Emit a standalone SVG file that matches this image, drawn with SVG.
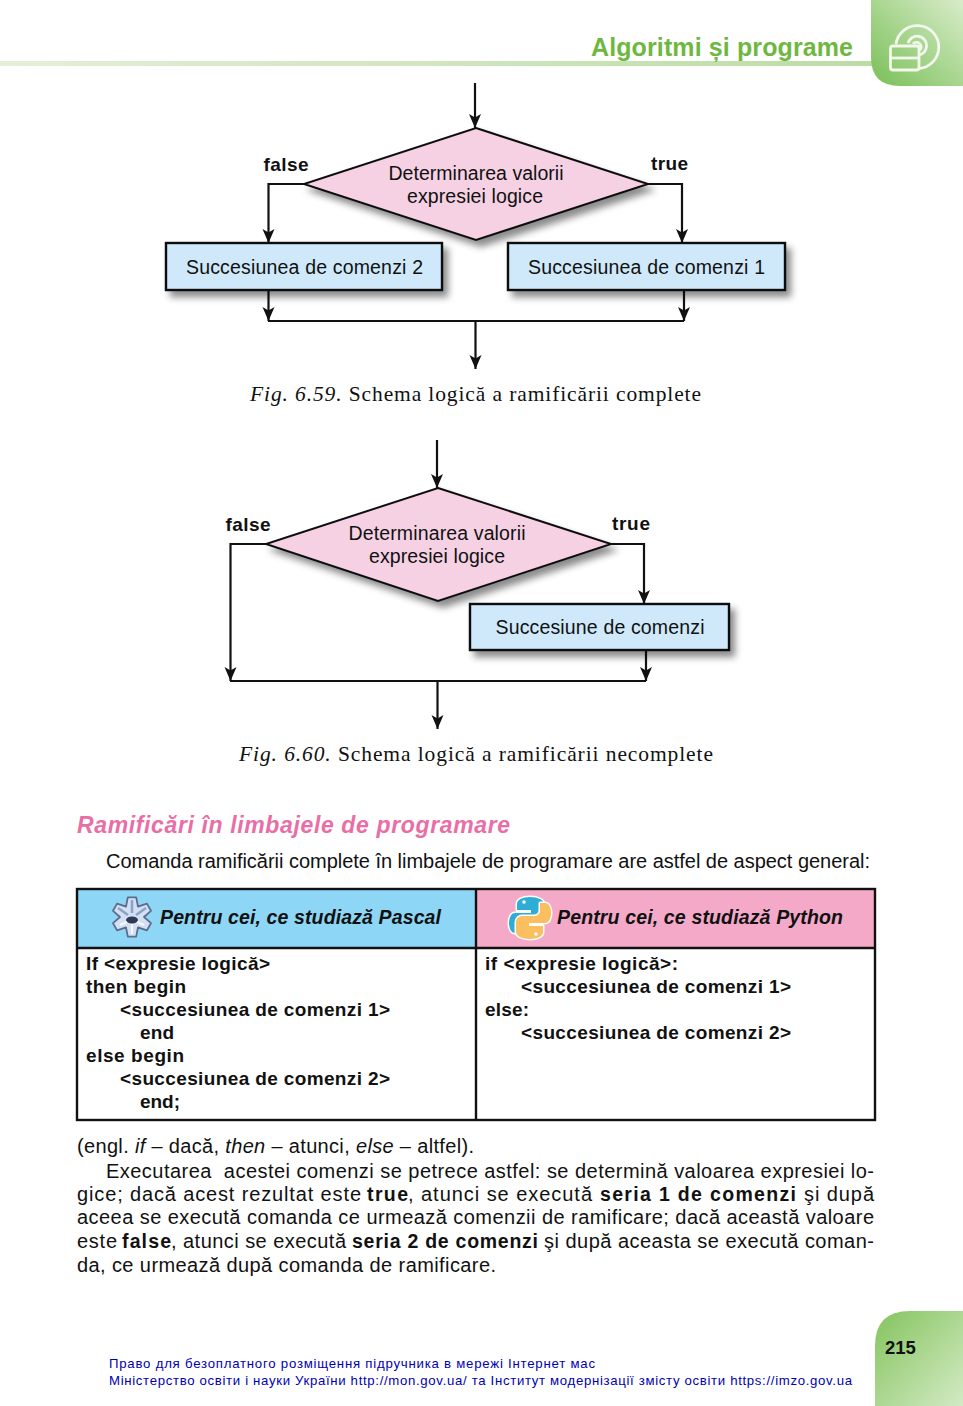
<svg xmlns="http://www.w3.org/2000/svg" width="963" height="1406" viewBox="0 0 963 1406">
<style>
text{font-family:"Liberation Sans",Arial,sans-serif;fill:#111}
.n{font-size:19.5px;text-anchor:middle}
.lb{font-size:19px;font-weight:bold}
.cap{font-family:"Liberation Serif","Times New Roman",serif;font-size:21.5px}
.body{font-size:20px}
.b{font-size:19.5px;font-weight:bold}
.code{font-size:19px;font-weight:bold}
.th{font-size:19.5px;font-weight:bold;font-style:italic}
.foot{font-size:13.2px;fill:#0000b4}
.d{fill:#f6d1e4;stroke:#111;stroke-width:2}
.r{fill:#cfe9fa;stroke:#111;stroke-width:2.4}
.c{fill:none;stroke:#111;stroke-width:2.2;marker-end:url(#a)}
.l{fill:none;stroke:#111;stroke-width:2.2}
.t{fill:none;stroke:#111;stroke-width:2.4}
</style>
<defs>
<marker id="a" markerUnits="userSpaceOnUse" markerWidth="16" markerHeight="14" refX="14" refY="6" orient="auto"><path d="M0 0L14 6L0 12L3.500 6Z" fill="#111"/></marker>
<filter id="s" x="-10%" y="-30%" width="125%" height="170%"><feDropShadow dx="5" dy="6" stdDeviation="3.5" flood-color="#000" flood-opacity=".45"/></filter>
<linearGradient id="g1" x1="0" y1="1" x2="1" y2="0"><stop offset="0" stop-color="#79bf57"/><stop offset="1" stop-color="#d8ecc9"/></linearGradient>
<linearGradient id="g2" x1="0" y1="0" x2="1" y2="1"><stop offset="0" stop-color="#84c45e"/><stop offset="1" stop-color="#d3eac4"/></linearGradient>
<linearGradient id="g3" x1="0" x2="1"><stop offset="0" stop-color="#e3f0d8"/><stop offset="1" stop-color="#bcdca4"/></linearGradient>
</defs>
<rect width="963" height="1406" fill="#fff"/>
<g id="header">
<rect x="0" y="61" width="880" height="5" fill="url(#g3)"/>
<path d="M871 0H963V86H900Q871 86 871 57Z" fill="url(#g1)"/>
<text x="591" y="56" font-size="25" font-weight="bold" style="fill:#6fb83f" textLength="262">Algoritmi și programe</text>
<g fill="none" stroke="#f2f8ec" stroke-width="2.8"><path d="M896 44A21.500 21.500 0 1 1 919 68.500"/><path d="M908 43A9.500 9.500 0 1 1 919 55"/><path d="M913 44A4.500 4.500 0 1 1 920 50"/><rect x="890.500" y="46" width="28.500" height="24" rx="2.500"/><path d="M890.500 58H919"/></g>
</g>
<g id="connectors">
<path class="c" d="M475 83V128"/>
<path class="c" d="M304 184H268.500V243"/>
<path class="c" d="M648 184H682V243"/>
<path class="c" d="M268.500 291V321"/>
<path class="c" d="M684 291V321"/>
<path class="l" d="M268 321H684"/>
<path class="c" d="M475.500 321V369"/>
<path class="c" d="M437 440V488"/>
<path class="c" d="M266 544H230.500V681"/>
<path class="c" d="M611 544H644V604"/>
<path class="c" d="M646 651V681"/>
<path class="l" d="M230 681H646"/>
<path class="c" d="M437.500 681V729"/>
</g>
<g id="d1"><polygon class="d" filter="url(#s)" points="476,128 648,184 476,240 304,184"/><text class="n" x="476" y="179.500" textLength="175">Determinarea valorii</text><text class="n" x="475" y="203" textLength="136">expresiei logice</text></g>
<g id="r2"><rect class="r" filter="url(#s)" x="166" y="243" width="276" height="47"/><text class="n" x="304.500" y="273.500" textLength="237">Succesiunea de comenzi 2</text></g>
<g id="r1"><rect class="r" filter="url(#s)" x="508" y="243" width="277" height="47"/><text class="n" x="646.500" y="273.500" textLength="237">Succesiunea de comenzi 1</text></g>
<g id="labels1"><text class="lb" x="263.500" y="170.500" textLength="45">false</text><text class="lb" x="651" y="170" textLength="37">true</text></g>
<text class="cap" x="250" y="401" textLength="451"><tspan font-style="italic">Fig. 6.59.</tspan> Schema logică a ramificării complete</text>
<g id="d2"><polygon class="d" filter="url(#s)" points="438,488 611,544 438,601 266,544"/><text class="n" x="437" y="539.500" textLength="177">Determinarea valorii</text><text class="n" x="437" y="563" textLength="136">expresiei logice</text></g>
<g id="r3"><rect class="r" filter="url(#s)" x="470" y="604" width="259" height="46"/><text class="n" x="600" y="633.500" textLength="209">Succesiune de comenzi</text></g>
<g id="labels2"><text class="lb" x="225.500" y="530.500" textLength="45">false</text><text class="lb" x="612" y="530" textLength="38">true</text></g>
<text class="cap" x="239" y="761" textLength="474"><tspan font-style="italic">Fig. 6.60.</tspan> Schema logică a ramificării necomplete</text>
<text x="77" y="833" font-size="23" font-weight="bold" font-style="italic" style="fill:#ea6ea6" textLength="433">Ramificări în limbajele de programare</text>
<text class="body" x="106" y="868" textLength="764">Comanda ramificării complete în limbajele de programare are astfel de aspect general:</text>
<g id="table">
<rect x="77" y="889" width="399" height="59" fill="#8dd6f5"/>
<rect x="476" y="889" width="399" height="59" fill="#f4a9c9"/>
<rect class="t" x="77" y="889" width="798" height="231"/>
<path class="t" d="M77 948H875M476 889V1120"/>
<g id="pascal-icon"><polygon points="127.800,897.400 136.200,897.400 138,906.600 146.900,903.600 151,910.800 144,917 151,923.200 146.900,930.400 138,927.400 136.200,936.600 127.800,936.600 126,927.400 117.100,930.400 113,923.200 120,917 113,910.800 117.100,903.600 126,906.600" fill="#d3dff2" stroke="#5d6c8c" stroke-width="1.800" stroke-linejoin="round"/><path d="M132 900V913M118 908L128 915M146 908L136 915" stroke="#8da2c8" stroke-width="2.500" fill="none"/><ellipse cx="132" cy="920" rx="6" ry="3.500" fill="#2e3a55"/><path d="M132 924V934M120 925L127 922M144 925L137 922" stroke="#f5f8fd" stroke-width="2" fill="none"/></g>
<g id="python-icon"><g stroke="#fff" stroke-width="3" paint-order="stroke" stroke-linejoin="round"><path d="M530 897c-8 0-13 3-13 7v6h14v3h-16c-4 0-6 5-6 10s2 10 6 10h5v-7c0-4 3-6 7-6h11c3 0 6-3 6-6v-10c0-4-6-7-14-7z" fill="#2eaed6"/><path d="M530 939c8 0 13-3 13-7v-6h-14v-3h16c4 0 6-5 6-10s-2-10-6-10h-5v7c0 4-3 6-7 6h-11c-3 0-6 3-6 6v10c0 4 6 7 14 7z" fill="#fbbf5f"/></g><circle cx="524" cy="902" r="1.800" fill="#fff"/><circle cx="536" cy="934" r="1.800" fill="#fff"/></g>
<text class="th" x="160" y="924" textLength="281">Pentru cei, ce studiază Pascal</text>
<text class="th" x="557" y="924" textLength="286">Pentru cei, ce studiază Python</text>
<text class="code" x="86" y="970" textLength="184">If &lt;expresie logică&gt;</text>
<text class="code" x="86" y="993" textLength="100">then begin</text>
<text class="code" x="120" y="1016" textLength="270">&lt;succesiunea de comenzi 1&gt;</text>
<text class="code" x="140" y="1039" textLength="34">end</text>
<text class="code" x="86" y="1062" textLength="98">else begin</text>
<text class="code" x="120" y="1085" textLength="270">&lt;succesiunea de comenzi 2&gt;</text>
<text class="code" x="140" y="1108" textLength="40">end;</text>
<text class="code" x="485" y="970" textLength="193">if &lt;expresie logică&gt;:</text>
<text class="code" x="521" y="993" textLength="270">&lt;succesiunea de comenzi 1&gt;</text>
<text class="code" x="485" y="1016" textLength="44">else:</text>
<text class="code" x="521" y="1039" textLength="270">&lt;succesiunea de comenzi 2&gt;</text>
</g>
<g id="body">
<text class="body" x="77" y="1153" textLength="397">(engl. <tspan font-style="italic">if</tspan> – dacă, <tspan font-style="italic">then</tspan> – atunci, <tspan font-style="italic">else</tspan> – altfel).</text>
<text class="body" x="106" y="1178" textLength="768" xml:space="preserve">Executarea  acestei comenzi se petrece astfel: se determină valoarea expresiei lo-</text>
<text class="body" x="77" y="1201" textLength="284">gice; dacă acest rezultat este</text>
<text class="b" x="367" y="1201" textLength="41">true</text>
<text class="body" x="408" y="1201" textLength="184">, atunci se execută</text>
<text class="b" x="600" y="1201" textLength="196">seria 1 de comenzi</text>
<text class="body" x="804" y="1201" textLength="70">şi după</text>
<text class="body" x="77" y="1224" textLength="797">aceea se execută comanda ce urmează comenzii de ramificare; dacă această valoare</text>
<text class="body" x="77" y="1248" textLength="40">este</text>
<text class="b" x="122" y="1248" textLength="49">false</text>
<text class="body" x="171" y="1248" textLength="175">, atunci se execută</text>
<text class="b" x="352" y="1248" textLength="186">seria 2 de comenzi</text>
<text class="body" x="544" y="1248" textLength="330">şi după aceasta se execută coman-</text>
<text class="body" x="77" y="1272" textLength="419">da, ce urmează după comanda de ramificare.</text>
</g>
<g id="footer">
<path d="M875 1406V1346Q875 1311 910 1311H963V1406Z" fill="url(#g2)"/>
<text x="885" y="1354" font-size="18.500" font-weight="bold">215</text>
<text class="foot" x="109" y="1368" textLength="486">Право для безоплатного розміщення підручника в мережі Інтернет мас</text>
<text class="foot" x="109" y="1385" textLength="743">Міністерство освіти і науки України http://mon.gov.ua/ та Інститут модернізації змісту освіти https://imzo.gov.ua</text>
</g>
</svg>
